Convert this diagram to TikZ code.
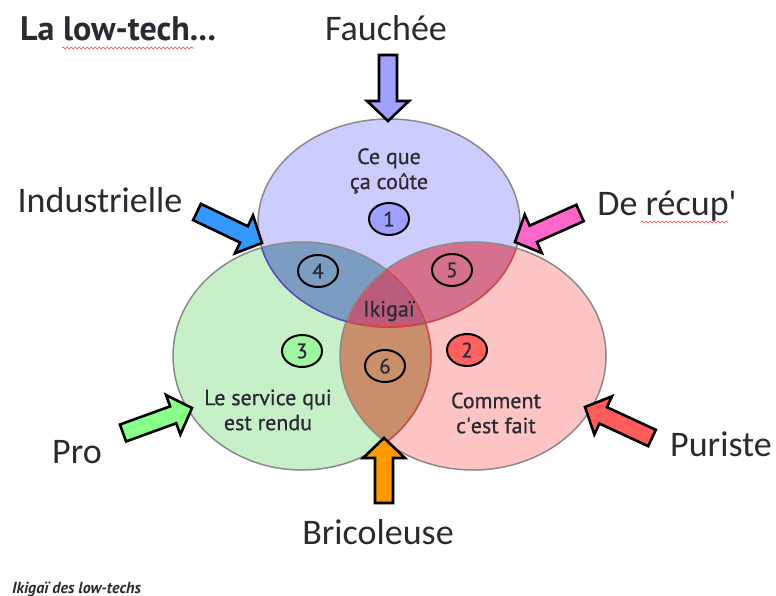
\documentclass[tikz,border=0pt]{standalone}
\usepackage{fontspec}
\setmainfont{Carlito}
\newfontfamily\din{PT Sans}
\newfontfamily\dinm[FakeBold=0.7]{PT Sans}
\usetikzlibrary{calc,shapes.geometric,decorations.pathmorphing}
\definecolor{cBlue}{HTML}{CCCCFF}
\definecolor{cGreen}{HTML}{C8F0C8}
\definecolor{cRed}{HTML}{FFC4C4}
\definecolor{cBG}{HTML}{7C9DC2}
\definecolor{cBR}{HTML}{D5708F}
\definecolor{cGR}{HTML}{C98F6B}
\definecolor{cAll}{HTML}{BA5C7C}
\definecolor{edgeGray}{HTML}{8A8A8A}
\definecolor{edgeBlue}{HTML}{5050C8}
\definecolor{edgeRed}{HTML}{D04848}
\definecolor{aBlue}{HTML}{A0A0FF}
\definecolor{aInd}{HTML}{3399FF}
\definecolor{aPink}{HTML}{FF66CC}
\definecolor{aGreen}{HTML}{88FF88}
\definecolor{aRed}{HTML}{FF5C5C}
\definecolor{aOrange}{HTML}{FF9900}
\definecolor{n1}{HTML}{A0A0FF}
\definecolor{n3}{HTML}{A0F5A0}
\definecolor{n2}{HTML}{FF6060}
\definecolor{txt}{HTML}{2A2A33}
\tikzset{
  ellB/.style={insert path={(cB) ellipse [x radius=131pt, y radius=104pt]}},
  ellG/.style={insert path={(cG) ellipse [x radius=129pt, y radius=114pt]}},
  ellR/.style={insert path={(cR) ellipse [x radius=133pt, y radius=114pt]}},
  edge/.style={line width=1.5pt},
  barrow/.style={draw=black, line width=2.6pt, line join=miter},
  numc/.style={ellipse, draw=black, line width=2pt, minimum width=40pt, minimum height=32pt, inner sep=0pt, text=txt, font=\dinm\fontsize{21}{21}\selectfont},
  outer/.style={font=\fontsize{36}{38}\selectfont, text=txt, inner sep=0pt},
  inner/.style={font=\dinm\fontsize{22}{25}\selectfont, text=txt, align=center, inner sep=0pt},
  squig/.style={decorate, decoration={snake, amplitude=0.9pt, segment length=4pt}, draw=red!75, line width=0.6pt}
}
\newcommand\blockarrow[2]{%
  \coordinate (#1h) at ($(#1tip)!20pt!(#1tail)$);
  \draw[barrow, fill=#2] ($(#1tail)!9pt!90:(#1tip)$) -- ($(#1h)!9pt!90:(#1tip)$) -- ($(#1h)!21pt!90:(#1tip)$) -- (#1tip) -- ($(#1h)!21pt!-90:(#1tip)$) -- ($(#1h)!9pt!-90:(#1tip)$) -- ($(#1tail)!9pt!-90:(#1tip)$) -- cycle;}
\begin{document}
\begin{tikzpicture}[x=1pt,y=-1pt]
\fill[white] (0,0) rectangle (776,596);
\useasboundingbox (0,0) rectangle (776,596);
\coordinate (cB) at (389,223);
\coordinate (cG) at (302,356);
\coordinate (cR) at (473,356);
% base fills
\fill[cBlue, ellB];
\fill[cGreen, ellG];
\fill[cRed, ellR];
% overlaps
\begin{scope}\clip[ellB]; \fill[cBG, ellG]; \fill[cBR, ellR]; \end{scope}
\begin{scope}\clip[ellG]; \fill[cGR, ellR]; \end{scope}
\begin{scope}\clip[ellB]; \clip[ellG]; \fill[cAll, ellR]; \end{scope}
% outlines
\draw[edge, edgeGray, ellB];
\draw[edge, edgeGray, ellG];
\draw[edge, edgeGray, ellR];
\begin{scope}\clip[ellG]; \draw[edge, edgeBlue, ellB]; \end{scope}
\begin{scope}\clip[ellR]; \draw[edge, edgeRed, ellB]; \draw[edge, edgeRed, ellG]; \end{scope}
% inner texts
\node[inner] (t1) at (389,171) {Ce que\\ça coûte};
\node[inner] (t3) at (268,410) {Le service qui\\est rendu};
\node[inner] (t2) at (496,413) {Comment\\c\textquotesingle est fait};
\node[inner] (ik) at (389,311) {Ikigaï};
% numbers
\node[numc, fill=n1] (c1) at (389,219) {1};
\node[numc] (c4) at (318,271) {4};
\node[numc] (c5) at (452,270) {5};
\node[numc, fill=n3] (c3) at (302,351) {3};
\node[numc] (c6) at (385,366) {6};
\node[numc, fill=n2] (c2) at (467,350) {2};
% outer labels
\node[outer] (fa) at (386,28) {Fauchée};
\node[outer] (in) at (100,200) {Industrielle};
\node[outer] (de) at (667,206) {De récup\textquotesingle};
\node[outer] (pr) at (77,452) {Pro};
\node[outer] (pu) at (721,444) {Puriste};
\node[outer] (br) at (378,532) {Bricoleuse};
% arrows
\coordinate (Ftail) at (388,55); \coordinate (Ftip) at (388,121);
\blockarrow{F}{aBlue}
\coordinate (Itail) at (197,212); \coordinate (Itip) at (262,243);
\blockarrow{I}{aInd}
\coordinate (Dtail) at (580,213); \coordinate (Dtip) at (515,242);
\blockarrow{D}{aPink}
\coordinate (Ptail) at (123,433); \coordinate (Ptip) at (192,408);
\blockarrow{P}{aGreen}
\coordinate (Utail) at (652,438); \coordinate (Utip) at (585,407);
\blockarrow{U}{aRed}
\coordinate (Btail) at (384,503); \coordinate (Btip) at (384,438);
\blockarrow{B}{aOrange}
% title and caption
\node[anchor=west, inner sep=0pt, text=txt, font=\din\bfseries\fontsize{34}{36}\selectfont] (title) at (20,29) {La low-tech...};
\node[anchor=west, inner sep=0pt, font=\din\bfseries\itshape\fontsize{16}{17}\selectfont, text=txt] (cap) at (12,589) {Ikigaï des low-techs};
% spell-check squiggles
\draw[squig] (62,48) -- (194,48);
\draw[squig] (641,222) -- (728,222);
\draw[squig] (361,324) -- (416,324);
\end{tikzpicture}
\end{document}
